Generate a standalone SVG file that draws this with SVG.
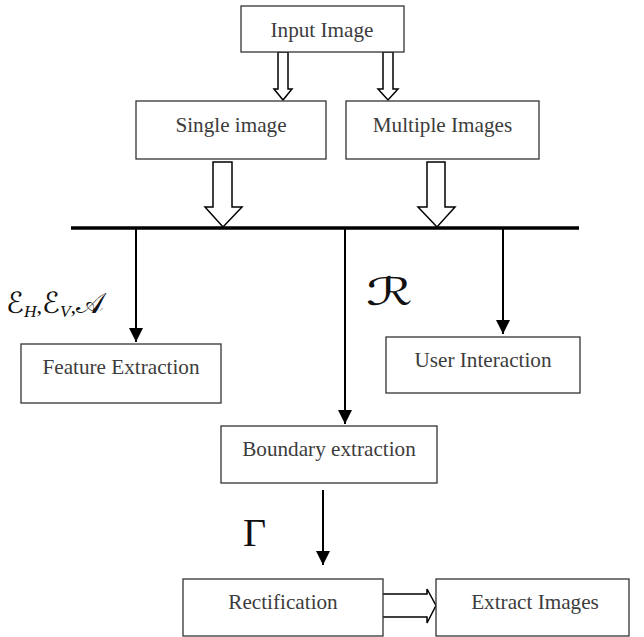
<svg xmlns="http://www.w3.org/2000/svg" width="644" height="637" viewBox="0 0 644 637">
<defs>
<style>
.box{fill:#fff;stroke:#333;stroke-width:1.3}
.lbl{font-family:"Liberation Serif","Times New Roman",serif;font-size:21.2px;fill:#3c3c3c;text-anchor:middle}
.ln{stroke:#000;stroke-width:2;fill:none}
.hol{fill:#fff;stroke:#000;stroke-width:1.5;stroke-linejoin:miter}
.math{font-family:"DejaVu Sans",serif;fill:#111}
.sub{font-family:"Liberation Serif",serif;font-style:italic;font-size:17px}
</style>
<marker id="ah" markerWidth="14" markerHeight="14" refX="14" refY="7" orient="auto" markerUnits="userSpaceOnUse">
<path d="M0,0 L14,7 L0,14 Z" fill="#000"/>
</marker>
</defs>
<rect width="644" height="637" fill="#fff"/>
<g id="connectors">
<path class="hol" d="M278,52 L288,52 L288,89 L292,89 L283,100 L274,89 L278,89 Z"/>
<path class="hol" d="M383,52 L393,52 L393,89 L398,89 L388,100 L378,89 L383,89 Z"/>
<path class="hol" d="M213,162 L232,162 L232,207 L242,207 L223,227 L205,207 L213,207 Z"/>
<path class="hol" d="M427,162 L445,162 L445,207 L455,207 L437,227 L418,207 L427,207 Z"/>
<line x1="71" y1="228" x2="579" y2="228" stroke="#000" stroke-width="3.5"/>
<line class="ln" x1="136" y1="229" x2="136" y2="342" marker-end="url(#ah)"/>
<line class="ln" x1="345" y1="229" x2="345" y2="424" marker-end="url(#ah)"/>
<line class="ln" x1="503" y1="229" x2="503" y2="334" marker-end="url(#ah)"/>
<line class="ln" x1="323" y1="490" x2="323" y2="565" marker-end="url(#ah)"/>
<path class="hol" d="M383,594 L427,594 L427,589 L436,605.5 L427,623 L427,617 L383,617"/>
</g>
<g id="input"><rect class="box" x="241" y="6" width="163" height="46"/><text class="lbl" x="322" y="37">Input Image</text></g>
<g id="single"><rect class="box" x="136" y="101" width="190" height="58"/><text class="lbl" x="231" y="132">Single image</text></g>
<g id="multiple"><rect class="box" x="346" y="101" width="193" height="58"/><text class="lbl" x="442.5" y="132">Multiple Images</text></g>
<g id="feature"><rect class="box" x="21" y="344" width="200" height="59"/><text class="lbl" x="121" y="374">Feature Extraction</text></g>
<g id="user"><rect class="box" x="386" y="337" width="194" height="56"/><text class="lbl" x="483" y="367">User Interaction</text></g>
<g id="boundary"><rect class="box" x="221" y="426" width="216" height="57"/><text class="lbl" x="329" y="456">Boundary extraction</text></g>
<g id="rect"><rect class="box" x="183" y="579" width="200" height="57"/><text class="lbl" x="283" y="609">Rectification</text></g>
<g id="extract"><rect class="box" x="436" y="579" width="193" height="57"/><text class="lbl" x="535" y="609">Extract Images</text></g>
<g id="labels">
<text class="math" transform="translate(6,313) scale(1.02,1)" x="0" y="0" font-size="29">ℰ<tspan class="sub" dy="4">H</tspan><tspan font-family="Liberation Serif" font-size="22" dy="-4">,</tspan>ℰ<tspan class="sub" dy="4">V</tspan><tspan font-family="Liberation Serif" font-size="22" dy="-4">,</tspan>𝒜</text>
<text class="math" transform="translate(366,305) scale(1.55,1)" x="0" y="0" font-size="38">ℛ</text>
<text x="243" y="546" font-family="Liberation Serif" font-size="40" fill="#111">Γ</text>
</g>
</svg>
